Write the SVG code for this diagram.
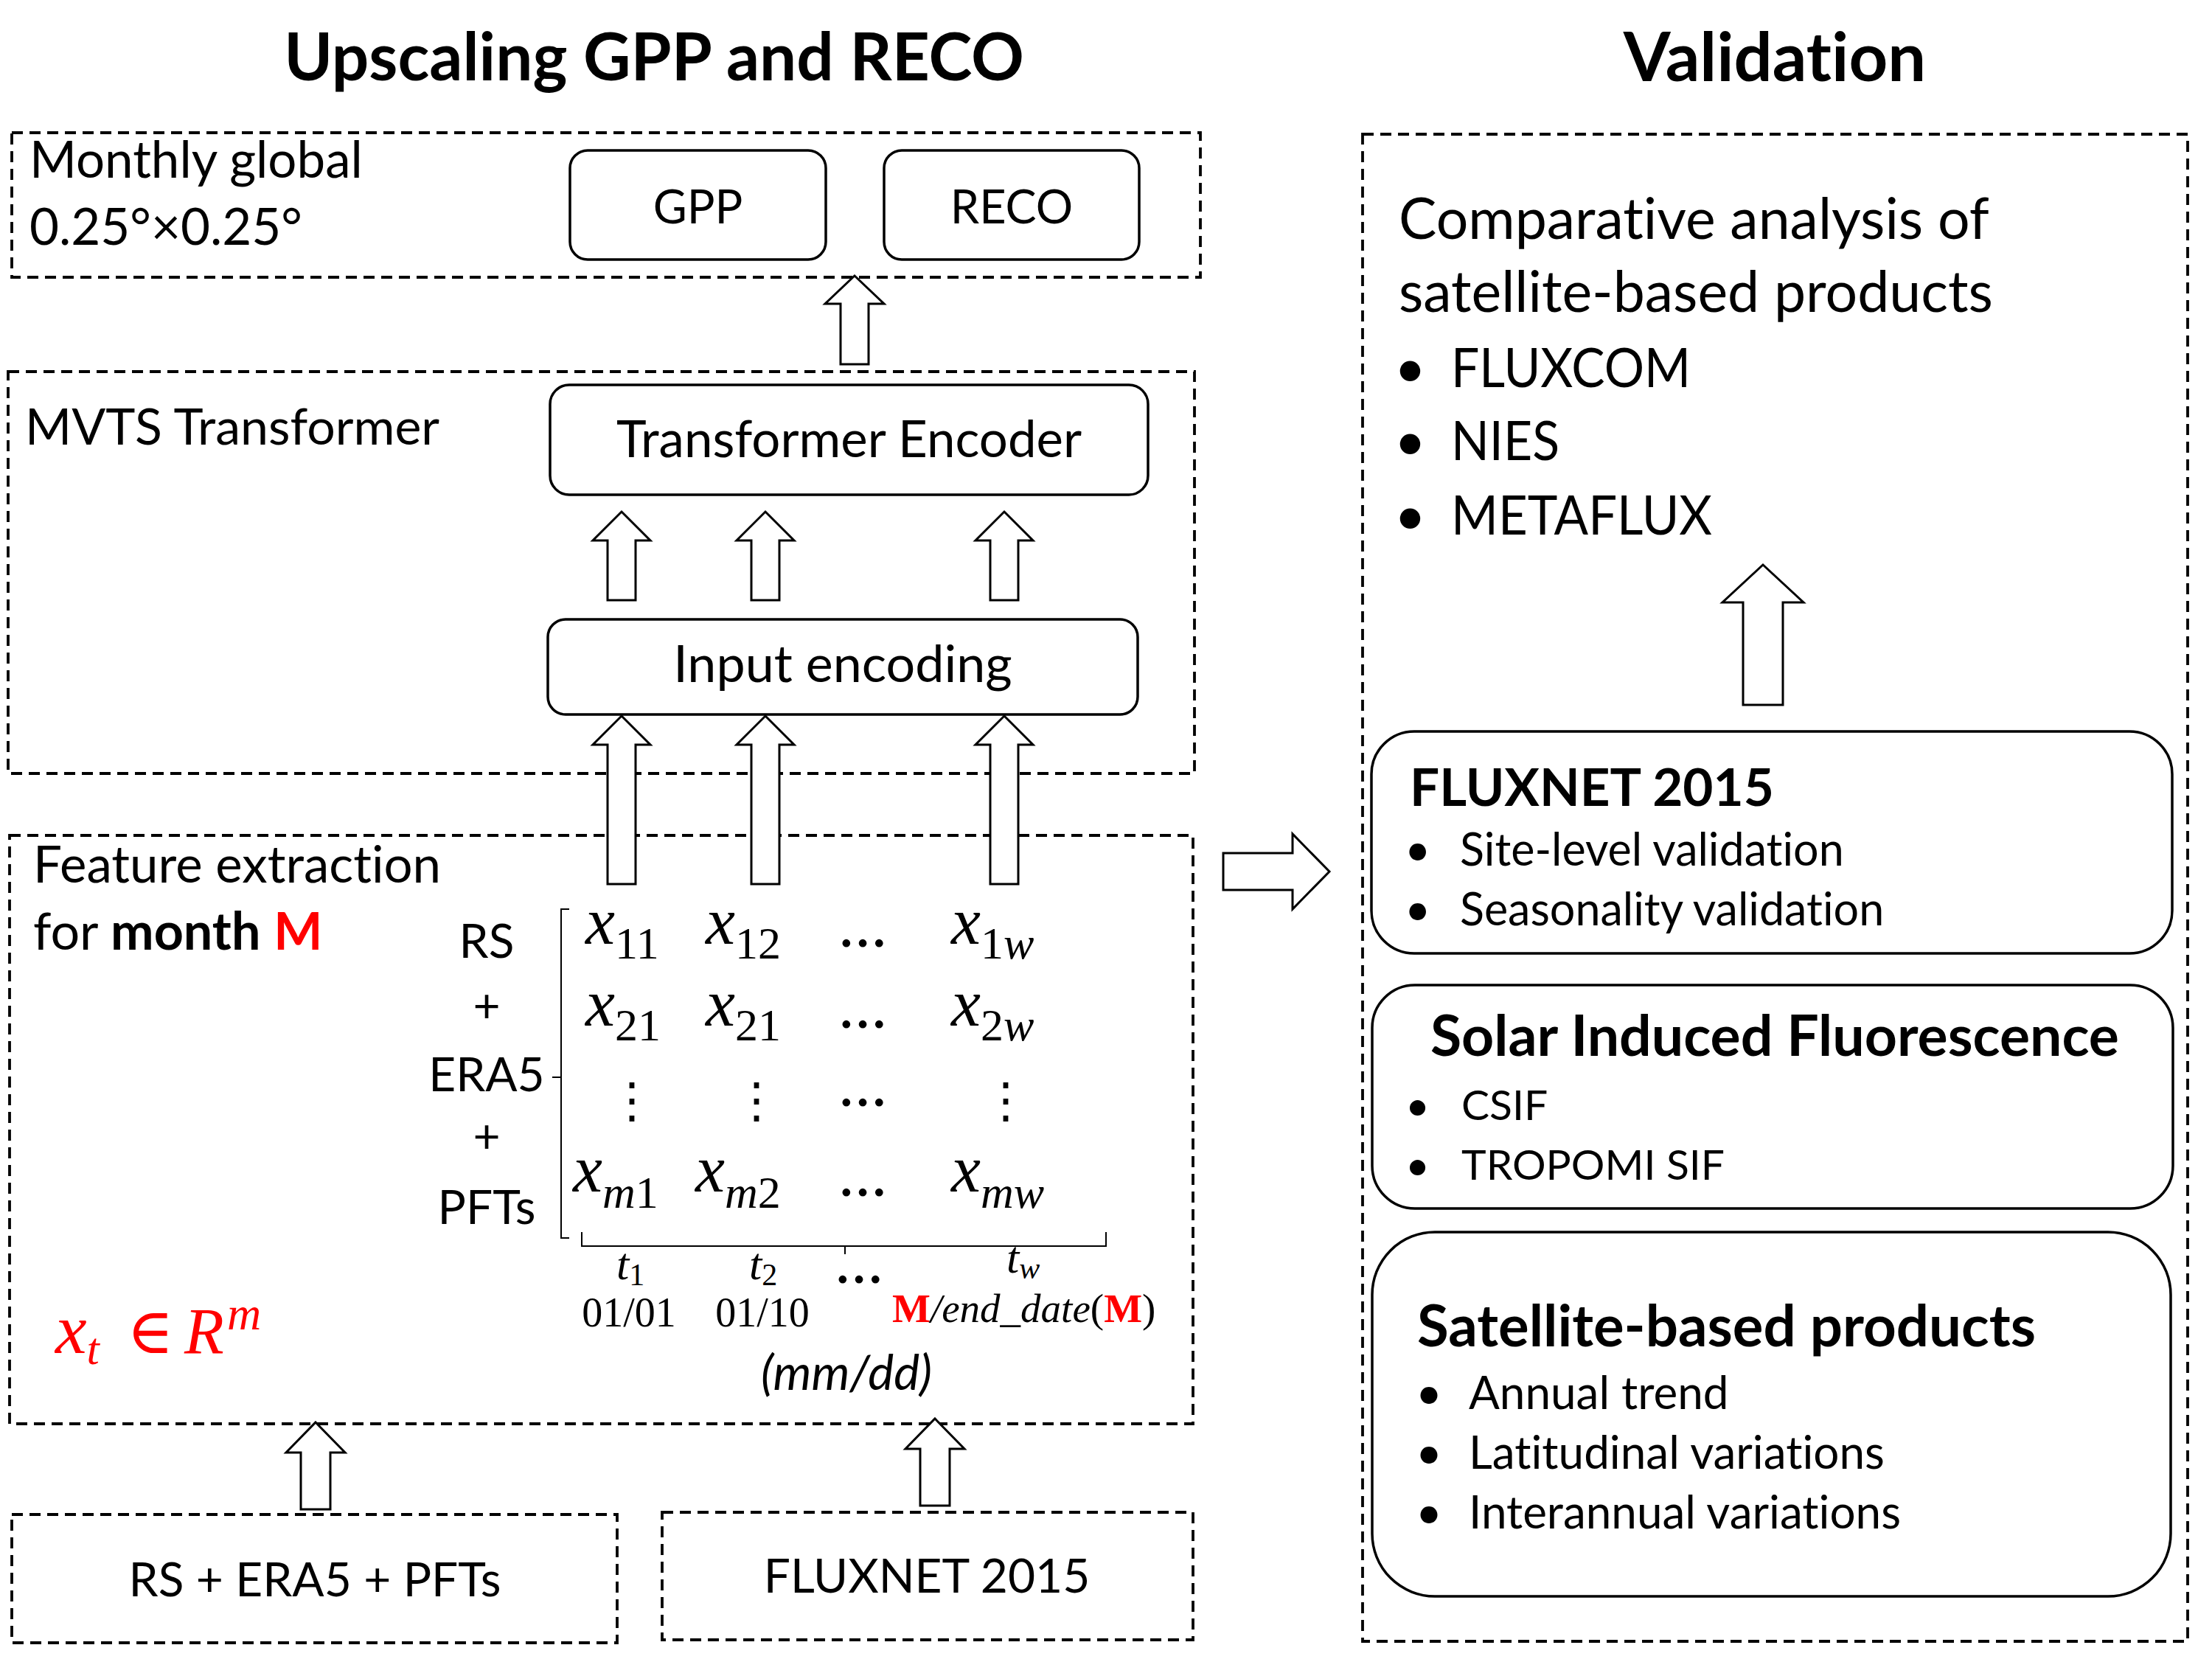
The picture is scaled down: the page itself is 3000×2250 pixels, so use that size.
<svg xmlns="http://www.w3.org/2000/svg" width="3000" height="2250" viewBox="0 0 3000 2250">
<defs>
<style>
.t{font-family:Lato,"Open Sans",sans-serif;fill:#000;font-variant-ligatures:none;font-feature-settings:"liga" 0}
.b{font-weight:bold}
.dash{fill:none;stroke:#000;stroke-width:3.8;stroke-dasharray:15 9}
.rb{fill:#fff;stroke:#000;stroke-width:3.5}
.arr{fill:#fff;stroke:#000;stroke-width:3}
.m{font-family:"Liberation Serif","DejaVu Serif",serif;font-style:italic;fill:#000}
.n{font-style:normal}
.red{fill:#ff0000}
.thin{fill:none;stroke:#000;stroke-width:2}
</style>
</defs>
<rect width="3000" height="2250" fill="#fff"/>
<text class="t b" x="887" y="109" font-size="89" text-anchor="middle">Upscaling GPP and RECO</text>
<text class="t b" x="2407" y="110" font-size="92" text-anchor="middle">Validation</text>

<g id="box-monthly">
<rect class="dash" x="16" y="180" width="1612" height="196"/>
<text class="t" x="40" y="241" font-size="69">Monthly global</text>
<text class="t" x="40" y="332" font-size="69">0.25°×0.25°</text>
</g>
<g id="gpp"><rect class="rb" x="773" y="204" width="347" height="148" rx="24"/>
<text class="t" x="946.5" y="303" font-size="63" text-anchor="middle">GPP</text></g>
<g id="reco"><rect class="rb" x="1199" y="204" width="346" height="148" rx="24"/>
<text class="t" x="1372" y="303" font-size="63" text-anchor="middle">RECO</text></g>

<g id="box-mvts">
<rect class="dash" x="11" y="504" width="1609" height="545"/>
<text class="t" x="34" y="603" font-size="68">MVTS Transformer</text>
</g>
<g id="encoder"><rect class="rb" x="746" y="522" width="811" height="149" rx="26"/>
<text class="t" x="1151.5" y="620" font-size="69" text-anchor="middle">Transformer Encoder</text></g>
<g id="input-encoding"><rect class="rb" x="743" y="840" width="800" height="129" rx="24"/>
<text class="t" x="1143" y="925" font-size="70" text-anchor="middle">Input encoding</text></g>

<g id="box-feature">
<rect class="dash" x="13" y="1133" width="1605" height="798"/>
<text class="t" x="45" y="1197" font-size="69">Feature extraction</text>
<text class="t" x="45" y="1288" font-size="70">for <tspan class="b">month</tspan> <tspan class="b red">M</tspan></text>
<g font-size="64" text-anchor="middle">
<text class="t" x="660" y="1299">RS</text>
<text class="t" x="660" y="1387">+</text>
<text class="t" x="660" y="1480">ERA5</text>
<text class="t" x="660" y="1564">+</text>
<text class="t" x="660" y="1660">PFTs</text>
</g>
<path class="thin" d="M772,1233 H761 V1679 H772 M761,1461 H749"/>
<path class="thin" d="M789,1671 V1690 H1500 V1671 M1146,1690 V1701"/>
<g font-size="90">
<text class="m" x="794" y="1280">x<tspan class="n" font-size="62" dy="20">11</tspan></text>
<text class="m" x="957" y="1280">x<tspan class="n" font-size="62" dy="20">12</tspan></text>
<text class="m" x="1290" y="1280">x<tspan class="n" font-size="62" dy="20">1</tspan><tspan font-size="62">w</tspan></text>
<text class="m" x="794" y="1391">x<tspan class="n" font-size="62" dy="20">21</tspan></text>
<text class="m" x="957" y="1391">x<tspan class="n" font-size="62" dy="20">21</tspan></text>
<text class="m" x="1290" y="1391">x<tspan class="n" font-size="62" dy="20">2</tspan><tspan font-size="62">w</tspan></text>
<text class="m" x="777" y="1616">x<tspan font-size="62" dy="22">m</tspan><tspan class="n" font-size="62">1</tspan></text>
<text class="m" x="943" y="1616">x<tspan font-size="62" dy="22">m</tspan><tspan class="n" font-size="62">2</tspan></text>
<text class="m" x="1290" y="1616">x<tspan font-size="62" dy="22">mw</tspan></text>
</g>
<g class="m n" font-size="66" font-weight="bold" text-anchor="middle" style="font-style:normal">
<text x="1170" y="1284">…</text>
<text x="1170" y="1394">…</text>
<text x="1170" y="1500">…</text>
<text x="1170" y="1622">…</text>
<text x="1165" y="1740">…</text>
</g>
<g font-family="DejaVu Serif" font-size="66" text-anchor="middle">
<text x="857" y="1515">⋮</text>
<text x="1026" y="1515">⋮</text>
<text x="1364" y="1515">⋮</text>
</g>
<g font-size="62">
<text class="m" x="836" y="1735">t<tspan class="n" font-size="42" dy="8">1</tspan></text>
<text class="m" x="1016" y="1735">t<tspan class="n" font-size="42" dy="8">2</tspan></text>
<text class="m" x="1365" y="1726">t<tspan font-size="42" dy="8">w</tspan></text>
</g>
<g font-size="56">
<text class="m n" x="853" y="1799" text-anchor="middle">01/01</text>
<text class="m n" x="1034" y="1799" text-anchor="middle">01/10</text>
<text class="m" x="1210" y="1793" font-size="55"><tspan class="n red" font-weight="bold">M</tspan>/end_date<tspan class="n">(</tspan><tspan class="n red" font-weight="bold">M</tspan><tspan class="n">)</tspan></text>
</g>
<text class="t" x="1148" y="1885" font-size="66" font-style="italic" text-anchor="middle">(mm/dd)</text>
<text class="m red" x="75" y="1835" font-size="96">x<tspan font-size="62" dy="15">t</tspan><tspan class="n" x="172" dy="-15" font-size="86">∈</tspan><tspan x="250" font-size="88">R</tspan><tspan x="308" font-size="64" dy="-32">m</tspan></text>
</g>

<g id="box-rs"><rect class="dash" x="16" y="2054" width="821" height="174"/>
<text class="t" x="427" y="2165" font-size="64" text-anchor="middle">RS + ERA5 + PFTs</text></g>
<g id="box-fluxnet-in"><rect class="dash" x="898" y="2051" width="720" height="173"/>
<text class="t" x="1257" y="2160" font-size="64" text-anchor="middle">FLUXNET 2015</text></g>

<g id="box-validation">
<rect class="dash" x="1848" y="182" width="1119" height="2044"/>
<g class="t" font-size="77">
<text x="1897" y="324">Comparative analysis of</text>
<text x="1897" y="423">satellite-based products</text>
</g>
<g class="t" font-size="74">
<text x="1891" y="525">•</text><text x="1968" y="525" textLength="325" lengthAdjust="spacingAndGlyphs">FLUXCOM</text>
<text x="1891" y="624">•</text><text x="1968" y="624" textLength="147" lengthAdjust="spacingAndGlyphs">NIES</text>
<text x="1891" y="725">•</text><text x="1968" y="725" textLength="354" lengthAdjust="spacingAndGlyphs">METAFLUX</text>
</g>
</g>
<g id="fluxnet-val"><rect class="rb" x="1860" y="992" width="1086" height="301" rx="58"/>
<text class="t b" x="1912" y="1093" font-size="71">FLUXNET 2015</text>
<g class="t" font-size="61"><text x="1905" y="1174">•</text><text x="1980" y="1174">Site-level validation</text>
<text x="1905" y="1255">•</text><text x="1980" y="1255">Seasonality validation</text></g></g>
<g id="sif-val"><rect class="rb" x="1861" y="1336" width="1086" height="303" rx="58"/>
<text class="t b" x="2407" y="1432" font-size="77" text-anchor="middle">Solar Induced Fluorescence</text>
<g class="t" font-size="57"><text x="1906" y="1519">•</text><text x="1982" y="1519">CSIF</text>
<text x="1906" y="1600">•</text><text x="1982" y="1600">TROPOMI SIF</text></g></g>
<g id="sat-val"><rect class="rb" x="1861" y="1671" width="1083" height="494" rx="85"/>
<text class="t b" x="1922" y="1826" font-size="78">Satellite-based products</text>
<g class="t" font-size="62"><text x="1920" y="1911">•</text><text x="1992" y="1911">Annual trend</text>
<text x="1920" y="1992">•</text><text x="1992" y="1992">Latitudinal variations</text>
<text x="1920" y="2073">•</text><text x="1992" y="2073">Interannual variations</text></g></g>

<g id="connectors">
<path class="arr" d="M1159,374 L1199,412 H1178 V494 H1140 V412 H1119 Z"/>
<path class="arr" d="M843,694 L882,733 H862 V814 H824 V733 H804 Z"/>
<path class="arr" d="M1038,694 L1077,733 H1057 V814 H1019 V733 H999 Z"/>
<path class="arr" d="M1362,694 L1401,733 H1381 V814 H1343 V733 H1323 Z"/>
<path class="arr" d="M843,971 L882,1010 H862 V1199 H824 V1010 H804 Z"/>
<path class="arr" d="M1038,971 L1077,1010 H1057 V1199 H1019 V1010 H999 Z"/>
<path class="arr" d="M1362,971 L1401,1010 H1381 V1199 H1343 V1010 H1323 Z"/>
<path class="arr" d="M428,1929 L468,1970 H448 V2047 H408 V1970 H388 Z"/>
<path class="arr" d="M1268,1924 L1308,1965 H1288 V2042 H1248 V1965 H1228 Z"/>
<path class="arr" d="M1803,1182 L1753,1131 V1157 H1659 V1207 H1753 V1233 Z"/>
<path class="arr" d="M2391,766 L2446,817 H2418 V956 H2364 V817 H2336 Z"/>
</g>
</svg>
